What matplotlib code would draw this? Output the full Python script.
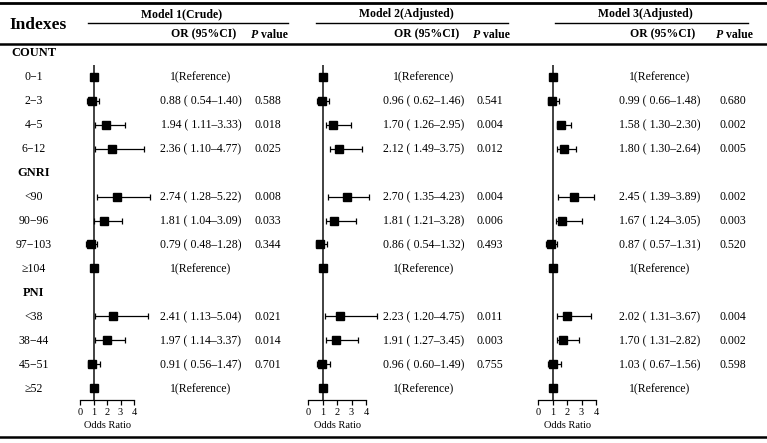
import matplotlib
matplotlib.use("Agg")
import matplotlib.pyplot as plt

plt.rcParams['font.family'] = ['Liberation Serif', 'DejaVu Serif']

# rows of the table (group headers carry no estimate)
row_labels = ['COUNT', '0\u22121', '2\u22123', '4\u22125', '6\u221212',
              'GNRI', '<90', '90\u221296', '97\u2212103', '\u2265104',
              'PNI', '<38', '38\u221244', '45\u221251', '\u226552']
group_rows = ['COUNT', 'GNRI', 'PNI']
ref_rows = ['0\u22121', '\u2265104', '\u226552']

model_titles = ['Model 1(Crude)', 'Model 2(Adjusted)', 'Model 3(Adjusted)']

# estimate rows, in the order of row_labels without groups/references
est_rows = ['2\u22123', '4\u22125', '6\u221212', '<90', '90\u221296', '97\u2212103',
            '<38', '38\u221244', '45\u221251']

or_m1 = [0.88, 1.94, 2.36, 2.74, 1.81, 0.79, 2.41, 1.97, 0.91]
lo_m1 = [0.54, 1.11, 1.10, 1.28, 1.04, 0.48, 1.13, 1.14, 0.56]
hi_m1 = [1.40, 3.33, 4.77, 5.22, 3.09, 1.28, 5.04, 3.37, 1.47]
p_m1 = ['0.588', '0.018', '0.025', '0.008', '0.033', '0.344', '0.021', '0.014', '0.701']

or_m2 = [0.96, 1.70, 2.12, 2.70, 1.81, 0.86, 2.23, 1.91, 0.96]
lo_m2 = [0.62, 1.26, 1.49, 1.35, 1.21, 0.54, 1.20, 1.27, 0.60]
hi_m2 = [1.46, 2.95, 3.75, 4.23, 3.28, 1.32, 4.75, 3.45, 1.49]
p_m2 = ['0.541', '0.004', '0.012', '0.004', '0.006', '0.493', '0.011', '0.003', '0.755']

or_m3 = [0.99, 1.58, 1.80, 2.45, 1.67, 0.87, 2.02, 1.70, 1.03]
lo_m3 = [0.66, 1.30, 1.30, 1.39, 1.24, 0.57, 1.31, 1.31, 0.67]
hi_m3 = [1.48, 2.30, 2.64, 3.89, 3.05, 1.31, 3.67, 2.82, 1.56]
p_m3 = ['0.680', '0.002', '0.005', '0.002', '0.003', '0.520', '0.004', '0.002', '0.598']

models = [(or_m1, lo_m1, hi_m1, p_m1),
          (or_m2, lo_m2, hi_m2, p_m2),
          (or_m3, lo_m3, hi_m3, p_m3)]

x_ticks = [0, 1, 2, 3, 4]

# layout in pixels
W, H = 767, 443
row_top, row_step = 53, 24
panel_left = [80, 308, 538]      # pixel of OR = 0
panel_width = [54, 58, 58]       # pixels from 0 to 4
or_col = [201, 424, 660]
p_col = [268, 490, 733]
hdr_line = [(88, 288), (316, 508), (555, 748)]
axis_y = 400

fig = plt.figure(figsize=(W / 100, H / 100), dpi=100)
bg = fig.add_axes([0, 0, 1, 1])
bg.set_xlim(0, W)
bg.set_ylim(H, 0)
bg.axis('off')

# rules of the table
bg.plot([0, W], [3, 3], color='black', lw=2)
bg.plot([0, W], [44, 44], color='black', lw=1.8)
bg.plot([0, W], [437, 437], color='black', lw=1.8)
bg.text(38, 25, 'Indexes', fontsize=12.5, fontweight='bold', ha='center', va='center')

fs = 8.5
for i, title in enumerate(model_titles):
    x0, x1 = hdr_line[i]
    bg.plot([x0, x1], [23, 23], color='black', lw=1)
    bg.text((x0 + x1) / 2 - 6, 14, title, fontsize=fs, fontweight='bold',
            ha='center', va='center')
    bg.text(or_col[i] + 3, 34.5, 'OR (95%CI)', fontsize=fs, fontweight='bold',
            ha='center', va='center')
    bg.text(p_col[i] - 10, 34.5, 'P', fontsize=fs, fontweight='bold', style='italic',
            ha='right', va='center')
    bg.text(p_col[i] - 10, 34.5, ' value', fontsize=fs, fontweight='bold',
            ha='left', va='center')

for k, lab in enumerate(row_labels):
    y = row_top + row_step * k
    bold = lab in group_rows
    bg.text(34, y, lab, fontsize=fs + (0.5 if bold else 0),
            fontweight='bold' if bold else 'normal', ha='center', va='center')

for i, (ors, los, his, ps) in enumerate(models):
    for lab in ref_rows:
        y = row_top + row_step * row_labels.index(lab)
        bg.text(or_col[i], y, '1(Reference)', fontsize=fs, ha='center', va='center')
    for j, lab in enumerate(est_rows):
        y = row_top + row_step * row_labels.index(lab)
        bg.text(or_col[i], y, f'{ors[j]:.2f} ( {los[j]:.2f}\u2013{his[j]:.2f})',
                fontsize=fs, ha='center', va='center')
        bg.text(p_col[i], y, ps[j], fontsize=fs, ha='center', va='center')

    # forest panel, rows as y
    top_px = row_top + row_step * 0.5
    ax = fig.add_axes([panel_left[i] / W, (H - axis_y) / H,
                       panel_width[i] / W, (axis_y - top_px) / H])
    ax.set_xlim(0, 4)
    ax.set_ylim(len(row_labels) - 0.5, 0.5)
    ax.patch.set_alpha(0)
    for s in ['top', 'right', 'left']:
        ax.spines[s].set_visible(False)
    ax.spines['bottom'].set_linewidth(0.9)
    ax.set_yticks([])
    ax.set_xticks(x_ticks)
    ax.tick_params(axis='x', length=3.5, width=0.9, labelsize=7.5, pad=2.5)
    ax.set_xlabel('Odds Ratio', fontsize=7.5, labelpad=3)
    ax.axvline(1, color='#333333', lw=1.3, zorder=1)

    ys = [row_labels.index(lab) for lab in est_rows]
    xerr = [[o - l for o, l in zip(ors, los)], [h - o for o, h in zip(ors, his)]]
    ax.errorbar(ors, ys, xerr=xerr, fmt='s', color='black', ms=5.3,
                elinewidth=0.9, capsize=2.3, capthick=0.9, clip_on=False, zorder=3)
    ref_y = [row_labels.index(lab) for lab in ref_rows]
    ax.plot([1] * len(ref_y), ref_y, 's', color='black', ms=5.3,
            clip_on=False, zorder=3)

fig.savefig('out.png', dpi=100)
